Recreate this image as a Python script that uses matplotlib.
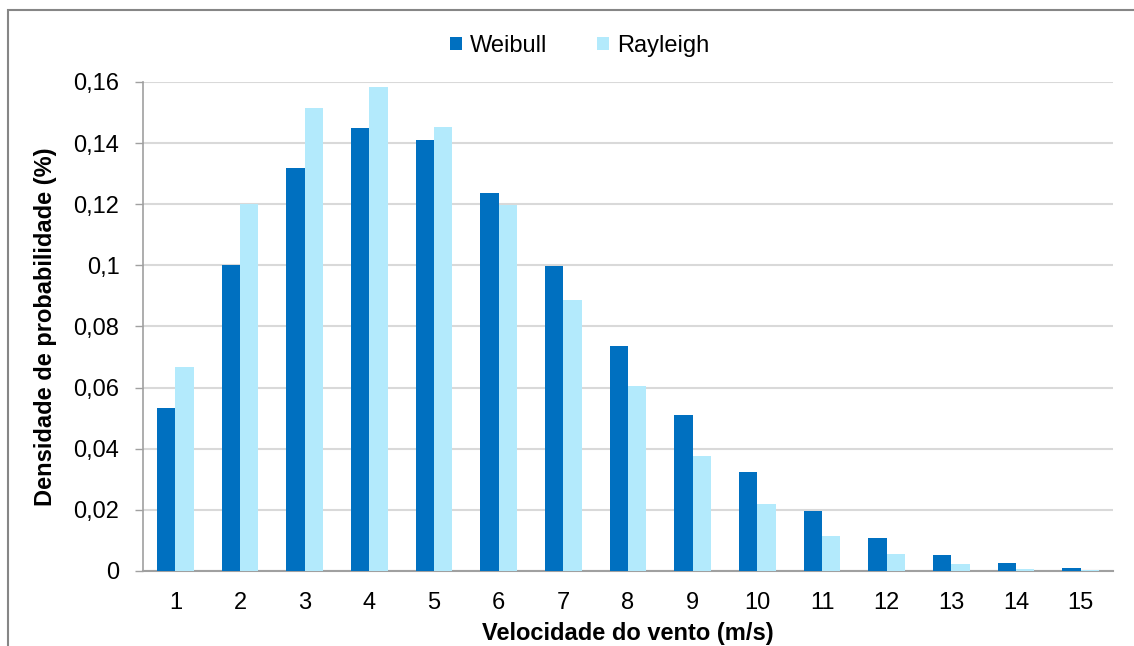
import matplotlib
matplotlib.use("Agg")
import matplotlib.pyplot as plt
import numpy as np
from matplotlib.patches import Rectangle

# velocidade do vento (m/s)
speeds = [1, 2, 3, 4, 5, 6, 7, 8, 9, 10, 11, 12, 13, 14, 15]
weibull = [0.0533, 0.1001, 0.1319, 0.1448, 0.1410, 0.1236, 0.0998, 0.0736,
           0.0511, 0.0325, 0.0195, 0.0107, 0.0053, 0.0027, 0.0011]
rayleigh = [0.0667, 0.1201, 0.1516, 0.1584, 0.1452, 0.1196, 0.0886, 0.0605,
            0.0377, 0.0219, 0.0115, 0.0055, 0.0023, 0.0008, 0.0002]
yticks = [0, 0.02, 0.04, 0.06, 0.08, 0.10, 0.12, 0.14, 0.16]
ytick_labels = ["0", "0,02", "0,04", "0,06", "0,08", "0,1", "0,12", "0,14", "0,16"]

plt.rcParams['font.family'] = ['Liberation Sans', 'DejaVu Sans']
fs = 17

fig = plt.figure(figsize=(11.34, 6.46), dpi=100)
ax = fig.add_axes([0.1261, 0.1161, 0.8554, 0.757])

x = np.arange(len(speeds))
w = 0.283
ax.bar(x - w / 2, weibull, width=w, color="#0070C0", label="Weibull", zorder=3)
ax.bar(x + w / 2, rayleigh, width=w, color="#B3EAFC", label="Rayleigh", zorder=3)

ax.set_xlim(-0.5, len(speeds) - 0.5)
ax.set_ylim(0, 0.16)
ax.set_xticks(x)
ax.set_xticklabels([str(s) for s in speeds], fontsize=fs)
ax.set_yticks(yticks)
ax.set_yticklabels(ytick_labels, fontsize=fs)
ax.tick_params(axis="x", length=0, pad=15)
ax.tick_params(axis="y", length=6, width=1, color="#A0A0A0", pad=11)

ax.grid(axis="y", color="#D9D9D9", linewidth=1.5, zorder=0)
for s in ["top", "right"]:
    ax.spines[s].set_visible(False)
ax.spines["left"].set_color("#A0A0A0")
ax.spines["bottom"].set_color("#A0A0A0")
ax.spines["left"].set_linewidth(1.2)
ax.spines["bottom"].set_linewidth(1.5)

ax.set_ylabel("Densidade de probabilidade (%)", fontsize=fs, fontweight="bold", labelpad=12)
ax.set_xlabel("Velocidade do vento (m/s)", fontsize=fs, fontweight="bold", labelpad=6)

ax.legend(loc="center", bbox_to_anchor=(0.45, 1.074), ncol=2, frameon=False,
          fontsize=fs, handlelength=0.5, handleheight=0.5, handletextpad=0.35,
          columnspacing=2.1)

fig.patches.append(Rectangle((8 / 1134, -0.2), 1.2, 1.2 - 10 / 646,
                             transform=fig.transFigure, fill=False,
                             edgecolor="#868686", linewidth=1.5))

fig.savefig("out.png", dpi=100)
